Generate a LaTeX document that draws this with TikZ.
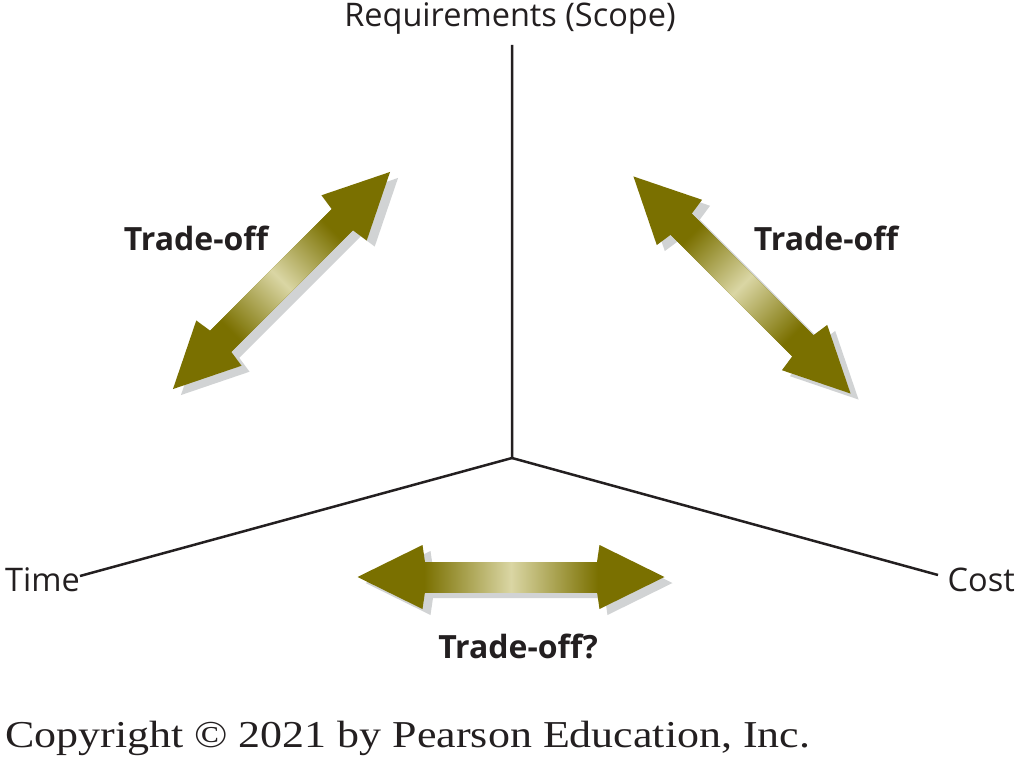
\documentclass[tikz,border=0pt]{standalone}
\usepackage{fontspec}
\setmainfont{Open Sans}
\newfontfamily\copyfont{Liberation Serif}
\definecolor{olivedark}{RGB}{122,112,0}
\definecolor{olivelight}{RGB}{218,214,164}
\definecolor{shadowgray}{RGB}{209,211,212}
\definecolor{inkblack}{RGB}{35,31,32}
\newcommand\tradeArrow[3]{%
  % #1 = center x, #2 = center y, #3 = angle
  \begin{scope}[shift={(#1+8,#2+6)}, rotate=#3]
    \fill[shadowgray] (-153.5,0) -- (-88.5,-32) -- (-86,-15) -- (86,-15) -- (88.5,-32)
      -- (153.5,0) -- (88.5,32) -- (86,15) -- (-86,15) -- (-88.5,32) -- cycle;
  \end{scope}
  \begin{scope}[shift={(#1,#2)}, rotate=#3]
    \fill[olivedark] (-153.5,0) -- (-88.5,-32) -- (-86,-15) -- (86,-15) -- (88.5,-32)
      -- (153.5,0) -- (88.5,32) -- (86,15) -- (-86,15) -- (-88.5,32) -- cycle;
    \shade[left color=olivedark, right color=olivedark, middle color=olivelight, shading angle=#3+90]
      (-87,-15) -- (87,-15) -- (87,15) -- (-87,15) -- cycle;
  \end{scope}}
\begin{document}
\begin{tikzpicture}[x=1pt,y=-1pt,
  axis/.style={line width=2.5pt, inkblack},
  axislabel/.style={font=\fontsize{32.5}{38}\selectfont, inner sep=0pt, text=inkblack},
  tolabel/.style={font=\bfseries\fontsize{32}{38}\selectfont, inner sep=0pt, text=inkblack}]
  \useasboundingbox[fill=white] (0,0) rectangle (1018,765);

  % axes
  \coordinate (o) at (512,458);
  \coordinate (up) at (512,45);
  \coordinate (tl) at (80,576);
  \coordinate (cr) at (938,575);
  \draw[axis] (up) -- (o) -- (tl);
  \draw[axis] (o) -- (cr);

  \node[axislabel, anchor=base] (req) at (510,27) {Requirements (Scope)};
  \node[axislabel, anchor=base west] (time) at (5,591) {Time};
  \node[axislabel, anchor=base east] (cost) at (1015,591) {Cost};

  % arrows
  \tradeArrow{281.5}{280.5}{45}
  \tradeArrow{742}{285}{-45}
  \tradeArrow{511}{577}{0}

  \node[tolabel, anchor=base] (t1) at (196,251) {Trade-off};
  \node[tolabel, anchor=base] (t2) at (826,251) {Trade-off};
  \node[tolabel, anchor=base] (t3) at (518,658) {Trade-off?};

  \node[font=\copyfont\fontsize{38}{44}\selectfont, inner sep=0pt, anchor=base west, text=inkblack, xscale=1.157] (copy) at (5,747) {Copyright © 2021 by Pearson Education, Inc.};
\end{tikzpicture}
\end{document}
